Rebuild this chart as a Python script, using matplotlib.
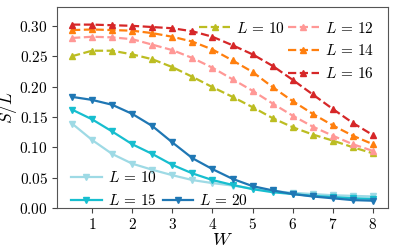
#!/usr/bin/env python3
"""Entanglement density S/L versus disorder strength W for several sizes."""

import matplotlib

matplotlib.use("Agg")
import matplotlib.pyplot as plt
from matplotlib.lines import Line2D
from matplotlib.ticker import FuncFormatter

plt.rcParams["mathtext.fontset"] = "cm"

# Disorder strengths shared by every curve.
W = [0.5, 1.0, 1.5, 2.0, 2.5, 3.0, 3.5, 4.0, 4.5, 5.0, 5.5, 6.0, 6.5, 7.0, 7.5, 8.0]

# Dashed family (upper curves).
dashed_sizes = [10, 12, 14, 16]
dashed_10 = [0.250, 0.259, 0.259, 0.253, 0.245, 0.232, 0.216, 0.199,
             0.183, 0.166, 0.148, 0.133, 0.121, 0.111, 0.100, 0.090]
dashed_12 = [0.280, 0.282, 0.281, 0.278, 0.269, 0.260, 0.247, 0.231,
             0.212, 0.193, 0.172, 0.152, 0.134, 0.119, 0.105, 0.094]
dashed_14 = [0.293, 0.294, 0.293, 0.292, 0.288, 0.282, 0.274, 0.261,
             0.243, 0.224, 0.199, 0.176, 0.155, 0.136, 0.119, 0.105]
dashed_16 = [0.302, 0.302, 0.301, 0.300, 0.298, 0.296, 0.291, 0.282,
             0.268, 0.253, 0.234, 0.211, 0.187, 0.163, 0.140, 0.120]

# Solid family (lower curves).
solid_sizes = [10, 15, 20]
solid_10 = [0.139, 0.112, 0.089, 0.073, 0.063, 0.054, 0.046, 0.041,
            0.037, 0.032, 0.028, 0.025, 0.023, 0.021, 0.020, 0.019]
solid_15 = [0.162, 0.146, 0.126, 0.105, 0.089, 0.071, 0.057, 0.046,
            0.038, 0.031, 0.026, 0.023, 0.020, 0.018, 0.016, 0.015]
solid_20 = [0.183, 0.178, 0.170, 0.155, 0.135, 0.108, 0.082, 0.064,
            0.048, 0.036, 0.029, 0.023, 0.019, 0.016, 0.013, 0.012]

dashed_colors = ["#bcbd22", "#ff9896", "#ff7f0e", "#d62728"]
solid_colors = ["#9edae5", "#17becf", "#1f77b4"]

fig = plt.figure(figsize=(3.95, 2.52), dpi=100)
ax = fig.add_axes([57 / 395, 44 / 252, 331 / 395, 201 / 252])

dashed_lines = []
for size, ys, color in zip(dashed_sizes, [dashed_10, dashed_12, dashed_14, dashed_16], dashed_colors):
    (ln,) = ax.plot(W, ys, "--", marker="^", color=color, lw=1.6, ms=5,
                    label=rf"$L\,=\,{size}$")
    dashed_lines.append(ln)

solid_lines = []
for size, ys, color in zip(solid_sizes, [solid_10, solid_15, solid_20], solid_colors):
    (ln,) = ax.plot(W, ys, "-", marker="v", color=color, lw=1.6, ms=5,
                    label=rf"$L\,=\,{size}$")
    solid_lines.append(ln)

ax.set_xlim(0.125, 8.375)
ax.set_ylim(0, 0.331)
ax.set_xticks([1, 2, 3, 4, 5, 6, 7, 8])
ax.set_yticks([0.0, 0.05, 0.10, 0.15, 0.20, 0.25, 0.30])
ax.xaxis.set_major_formatter(FuncFormatter(lambda v, p: f"${v:g}$"))
ax.yaxis.set_major_formatter(FuncFormatter(lambda v, p: f"${v:.2f}$"))
ax.tick_params(labelsize=11, length=3.5, color="#444444", pad=3)
for sp in ax.spines.values():
    sp.set_color("#555555")
ax.set_xlabel("$W$", fontsize=13, labelpad=-1)
ax.set_ylabel("$S/L$", fontsize=12.5, labelpad=0.5)

legend_kw = dict(frameon=False, fontsize=11, ncol=2, handlelength=2.0,
                 handletextpad=0.4, labelspacing=0.5, borderaxespad=0)

# Upper legend: L=10 alone in the first column, the others stacked in the second.
blank = Line2D([], [], alpha=0)
upper = ax.legend(
    [dashed_lines[0], blank, blank] + dashed_lines[1:],
    [ln.get_label() for ln in dashed_lines[:1] * 3 + dashed_lines[1:]],
    loc="upper right", bbox_to_anchor=(0.975, 0.962), columnspacing=0.2,
    **legend_kw,
)
for txt in upper.get_texts()[1:3]:
    txt.set_color("none")
ax.add_artist(upper)

# Lower legend: L=20 sits beside L=15 on the bottom row.
lower = ax.legend(
    [solid_lines[0], solid_lines[1], blank, solid_lines[2]],
    [ln.get_label() for ln in [solid_lines[0], solid_lines[1], solid_lines[2], solid_lines[2]]],
    loc="lower left", bbox_to_anchor=(0.024, -0.03), columnspacing=0.4,
    **legend_kw,
)
lower.get_texts()[2].set_color("none")

fig.savefig("out.png", dpi=100)
